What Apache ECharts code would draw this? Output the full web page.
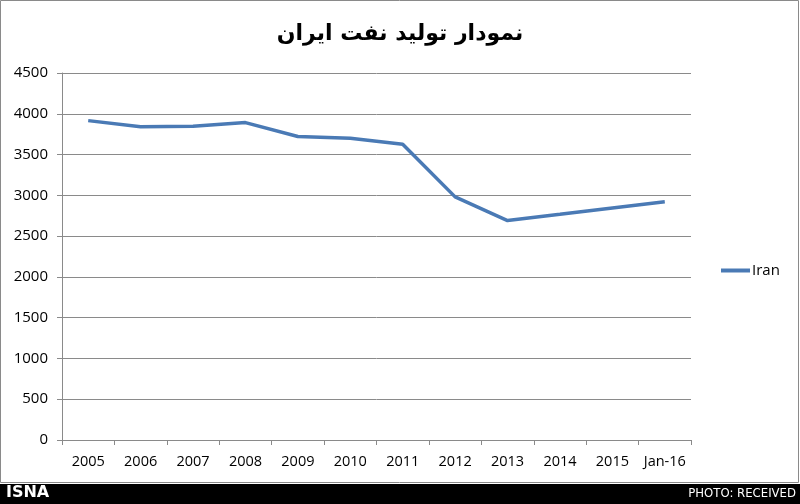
<!DOCTYPE html>
<html><head><meta charset="utf-8">
<script src="https://cdn.jsdelivr.net/npm/echarts@6/dist/echarts.min.js"></script>
<style>html,body{margin:0;padding:0;background:#fff}#c{width:800px;height:504px}</style>
</head><body><div id="c"></div>
<script>
const categories = ['2005','2006','2007','2008','2009','2010','2011','2012','2013','2014','2015','Jan-16'];
const iranValues = [3916, 3840, 3847, 3892, 3722, 3700, 3626, 2981, 2691, 2768, 2846, 2920];
const yTicks = {min: 0, max: 4500, interval: 500};
const titleText = 'نمودار تولید نفت ایران';
const seriesName = 'Iran';

const chart = echarts.init(document.getElementById('c'), null, {renderer: 'canvas'});
const labelFont = '"Open Sans", "Noto Sans", sans-serif';
chart.setOption({
  animation: false,
  backgroundColor: '#fff',
  title: {
    text: titleText, left: 'center', top: 18,
    textStyle: {fontFamily: '"DejaVu Sans", sans-serif', fontWeight: 'bold', fontSize: 22, color: '#000'}
  },
  legend: {
    data: [seriesName], left: 716, top: 258, icon: 'rect', itemWidth: 29, itemHeight: 4, itemGap: 5,
    textStyle: {fontFamily: labelFont, fontSize: 15, color: '#000', padding: [0,0,0,-3]}
  },
  grid: {left: 62, right: 109, top: 73, bottom: 64, containLabel: false},
  xAxis: {
    type: 'category', data: categories, boundaryGap: true,
    axisLine: {lineStyle: {color: '#8a8a8a', width: 1}},
    axisTick: {show: true, length: 5, lineStyle: {color: '#8a8a8a'}},
    axisLabel: {fontFamily: labelFont, fontSize: 14.5, color: '#000', margin: 14, interval: 0}
  },
  yAxis: {
    type: 'value', min: yTicks.min, max: yTicks.max, interval: yTicks.interval,
    axisLine: {show: true, lineStyle: {color: '#8a8a8a', width: 1}},
    axisTick: {show: true, length: 5, lineStyle: {color: '#8a8a8a'}},
    splitLine: {lineStyle: {color: '#8a8a8a', width: 1}},
    axisLabel: {fontFamily: labelFont, fontSize: 15, color: '#000', margin: 14, formatter: v => String(v)}
  },
  series: [{
    name: seriesName, type: 'line', data: iranValues, symbol: 'none',
    lineStyle: {color: '#4a7ab5', width: 3.5}, itemStyle: {color: '#4a7ab5'}
  }],
  graphic: [
    {type: 'rect', shape: {x: 0.5, y: 0.5, width: 798, height: 482}, style: {fill: null, stroke: '#8a8a8a', lineWidth: 1}, z: -1},
    {type: 'rect', shape: {x: 0, y: 484, width: 800, height: 20}, style: {fill: '#000'}},
    {type: 'text', left: 6, top: 485, style: {text: 'ISNA', fill: '#fff', font: 'bold 16px "DejaVu Sans", sans-serif'}},
    {type: 'text', right: 4, top: 487, style: {text: 'PHOTO: RECEIVED', fill: '#fff', font: '13px "DejaVu Sans Condensed", "Liberation Sans Narrow", sans-serif'}}
  ]
});
</script></body></html>
